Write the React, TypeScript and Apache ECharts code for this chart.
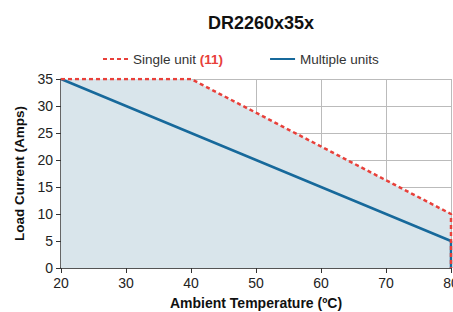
import React, { useEffect, useRef } from "react";
import * as echarts from "echarts";

const title = "DR2260x35x";
const singleUnit: [number, number][] = [[20, 35], [40, 35], [80, 10], [80, 0]];
const multipleUnits: [number, number][] = [[20, 35], [80, 5], [80, 0]];
const xTicks = [20, 30, 40, 50, 60, 70, 80];
const yTicks = [0, 5, 10, 15, 20, 25, 30, 35];

const FONT = "'Liberation Sans', Arial, sans-serif";
const RED = "#e8403a";
const BLUE = "#17699b";

export default function App() {
  const ref = useRef<HTMLDivElement>(null);
  useEffect(() => {
    if (!ref.current) return;
    const chart = echarts.init(ref.current, undefined, { renderer: "svg" });
    chart.setOption({
      animation: false,
      title: {
        text: title,
        left: 256,
        textAlign: "center",
        top: 9,
        textStyle: { fontFamily: FONT, fontSize: 18, fontWeight: "bold", color: "#111" },
      },
      legend: {
        top: 47,
        left: 97,
        itemWidth: 25,
        itemHeight: 10,
        itemGap: 46,
        textStyle: {
          fontFamily: FONT,
          fontSize: 13.5,
          color: "#333",
          rich: {
            r: { fontFamily: FONT, fontSize: 13.5, fontWeight: "bold", color: RED },
          },
        },
        formatter: (name: string) =>
          name === "Single unit" ? "Single unit {r|(11)}" : name,
        data: [
          { name: "Single unit", itemStyle: { opacity: 0 } },
          { name: "Multiple units", itemStyle: { opacity: 0 } },
        ],
      },
      grid: { left: 61, right: 2, top: 79, bottom: 44, outerBoundsMode: "none" },
      xAxis: {
        type: "value",
        min: xTicks[0],
        max: xTicks[xTicks.length - 1],
        interval: 10,
        name: "Ambient Temperature (ºC)",
        nameLocation: "middle",
        nameGap: 28,
        nameTextStyle: { fontFamily: FONT, fontSize: 14, fontWeight: "bold", color: "#111" },
        axisLine: { show: true, lineStyle: { color: "#333", width: 1.5 } },
        axisTick: { show: true, length: 5, lineStyle: { color: "#333" } },
        axisLabel: { fontFamily: FONT, fontSize: 14, color: "#222", margin: 8 },
        splitLine: { show: true, lineStyle: { color: "#bbb", width: 1 } },
      },
      yAxis: {
        type: "value",
        min: yTicks[0],
        max: yTicks[yTicks.length - 1],
        interval: 5,
        name: "Load Current (Amps)",
        nameLocation: "middle",
        nameGap: 29,
        nameTextStyle: { fontFamily: FONT, fontSize: 13.5, fontWeight: "bold", color: "#111" },
        axisLine: { show: true, lineStyle: { color: "#333", width: 1.5 } },
        axisTick: { show: true, length: 5, lineStyle: { color: "#333" } },
        axisLabel: { fontFamily: FONT, fontSize: 14, color: "#222", margin: 8 },
        splitLine: { show: true, lineStyle: { color: "#bbb", width: 1 } },
      },
      series: [
        {
          name: "area",
          type: "line",
          data: singleUnit,
          symbol: "none",
          lineStyle: { width: 0, opacity: 0 },
          areaStyle: { color: "#d9e5eb", opacity: 1 },
          z: 1,
          silent: true,
        },
        {
          name: "Multiple units",
          type: "line",
          data: multipleUnits,
          symbol: "none",
          itemStyle: { color: BLUE },
          lineStyle: { color: BLUE, width: 2.5 },
          z: 2,
        },
        {
          name: "Single unit",
          type: "line",
          data: singleUnit,
          symbol: "none",
          itemStyle: { color: RED },
          lineStyle: { color: RED, width: 2.5, type: [4, 3] },
          z: 3,
        },
      ],
    });
    return () => chart.dispose();
  }, []);
  return <div ref={ref} style={{ width: 453, height: 312, position: "absolute", left: 0, top: 0, background: "#fff" }} />;
}
